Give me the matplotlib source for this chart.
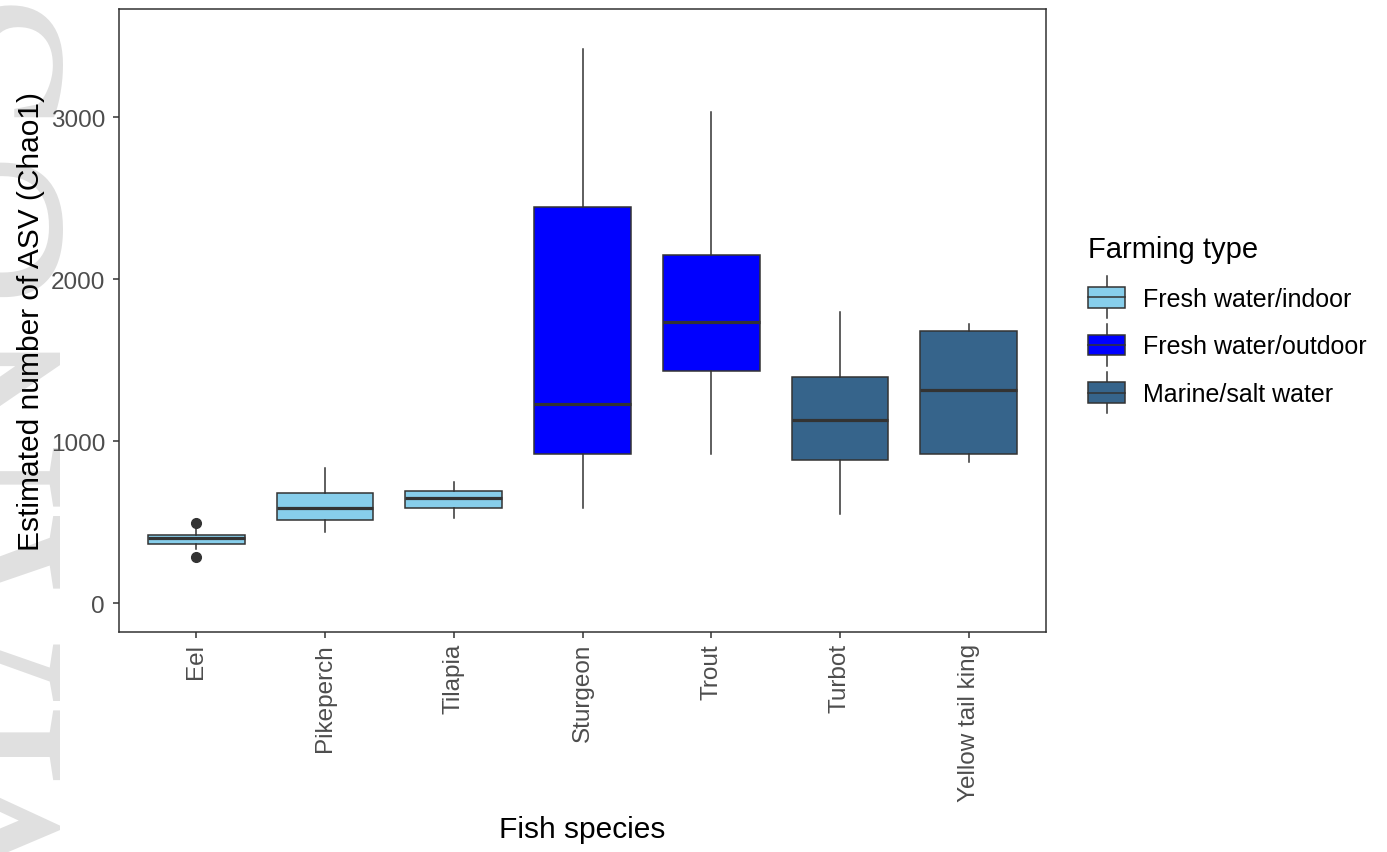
import matplotlib
matplotlib.use('Agg')
import matplotlib.pyplot as plt
from matplotlib.patches import Rectangle
from matplotlib.lines import Line2D
from matplotlib.legend_handler import HandlerBase

plt.rcParams['font.family'] = ['Liberation Sans', 'DejaVu Sans']

# data
species = ['Eel', 'Pikeperch', 'Tilapia', 'Sturgeon', 'Trout', 'Turbot', 'Yellow tail king']
farming = ['Fresh water/indoor', 'Fresh water/indoor', 'Fresh water/indoor',
           'Fresh water/outdoor', 'Fresh water/outdoor',
           'Marine/salt water', 'Marine/salt water']
whisker_lo = [335, 438, 525, 586, 920, 549, 870]
q1 = [364, 512, 586, 920, 1432, 883, 920]
median = [401, 586, 648, 1228, 1735, 1130, 1315]
q3 = [420, 679, 691, 2444, 2148, 1395, 1679]
whisker_hi = [465, 833, 747, 3420, 3031, 1796, 1722]
outliers = [[494, 284], [], [], [], [], [], []]

farm_types = ['Fresh water/indoor', 'Fresh water/outdoor', 'Marine/salt water']
farm_colors = {'Fresh water/indoor': '#87CEEB',
               'Fresh water/outdoor': '#0000FF',
               'Marine/salt water': '#36648B'}

line_col = '#333333'
tick_col = '#4D4D4D'

fig = plt.figure(figsize=(13.87, 8.53), dpi=100)

# faint watermark at the left edge, behind everything
fig.text(110 / 1387, -75 / 853, 'MANUSCRIPT', rotation=90, ha='right', va='bottom',
         fontsize=189, color='#e0e0e0', family='Liberation Serif', zorder=-5)

ax = fig.add_axes([119 / 1387, 1 - 633 / 853, 927 / 1387, 623 / 853])
ax.patch.set_alpha(0)

stats = []
for i in range(len(species)):
    stats.append({'whislo': whisker_lo[i], 'q1': q1[i], 'med': median[i],
                  'q3': q3[i], 'whishi': whisker_hi[i], 'fliers': outliers[i]})

bp = ax.bxp(stats, positions=range(len(species)), widths=0.75, patch_artist=True,
            showcaps=False,
            boxprops=dict(edgecolor=line_col, linewidth=1.1),
            whiskerprops=dict(color=line_col, linewidth=1.1),
            medianprops=dict(color=line_col, linewidth=2.3),
            flierprops=dict(marker='o', markerfacecolor=line_col, markeredgecolor=line_col,
                            markersize=7))
for patch, ft in zip(bp['boxes'], farming):
    patch.set_facecolor(farm_colors[ft])

ax.set_xlim(-0.6, 6.6)
ax.set_ylim(-179, 3667)
ax.set_yticks([0, 1000, 2000, 3000])
ax.set_xticks(range(len(species)))
ax.set_xticklabels(species, rotation=90)
ax.tick_params(axis='both', colors=line_col, labelcolor=tick_col, labelsize=17.5,
               length=4, width=1.1)
ax.tick_params(axis='y', pad=6)
ax.tick_params(axis='x', pad=4)
for s in ax.spines.values():
    s.set_color(line_col)
    s.set_linewidth(1.1)

ax.set_xlabel('Fish species', fontsize=21.5, color='black', labelpad=10)
ax.set_ylabel('Estimated number of ASV (Chao1)', fontsize=21.5, color='black', labelpad=4)


class BoxHandler(HandlerBase):
    def create_artists(self, legend, orig_handle, xdescent, ydescent, width, height,
                       fontsize, trans):
        x0, y0 = -xdescent, -ydescent
        ext = height * 0.5
        xm = x0 + width / 2
        wl = Line2D([xm, xm], [y0 - ext, y0], color=line_col, lw=1.1, transform=trans)
        wh = Line2D([xm, xm], [y0 + height, y0 + height + ext], color=line_col, lw=1.1,
                    transform=trans)
        r = Rectangle((x0, y0), width, height, facecolor=orig_handle.get_facecolor(),
                      edgecolor=line_col, lw=1.1, transform=trans)
        md = Line2D([x0, x0 + width], [y0 + height / 2] * 2, color=line_col, lw=1.1,
                    transform=trans)
        return [wl, wh, r, md]


handles = [Rectangle((0, 0), 1, 1, facecolor=farm_colors[f]) for f in farm_types]
leg = fig.legend(handles, farm_types, loc='upper left',
                 bbox_to_anchor=(1088 / 1387, 1 - 236 / 853),
                 frameon=False, fontsize=18, title='Farming type', title_fontsize=21,
                 handler_map={Rectangle: BoxHandler()}, handlelength=1.48,
                 handleheight=0.9, labelspacing=0.95, handletextpad=0.72, borderpad=0,
                 borderaxespad=0)
leg._legend_box.align = 'left'

fig.savefig('out.png', dpi=100)
